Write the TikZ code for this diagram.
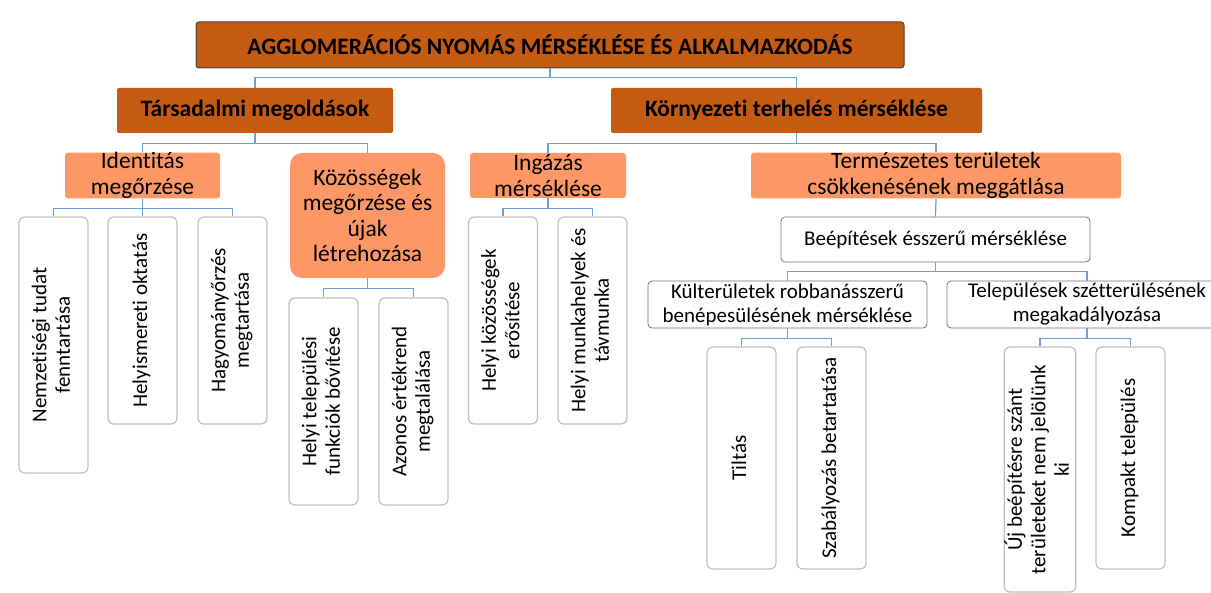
\documentclass[tikz,border=0pt]{standalone}
\usepackage{fontspec}
\setmainfont{Carlito}[Ligatures={NoCommon}]
\usepackage{graphicx}
\usetikzlibrary{positioning}
\definecolor{darkor}{RGB}{197,90,17}
\definecolor{lightor}{RGB}{253,152,102}
\definecolor{bus}{RGB}{110,160,210}
\tikzstyle{ndtop} = [draw=black!75, line width=1pt, fill=darkor, rounded corners=3pt, inner sep=0pt, font=\fontsize{23.5}{26}\selectfont\bfseries]
\tikzstyle{ndmain} = [fill=darkor, rounded corners=2pt, inner sep=0pt, font=\fontsize{23.5}{26}\selectfont\bfseries]
\tikzstyle{ndsub} = [fill=lightor, rounded corners=3pt, inner sep=0pt, align=center, font=\fontsize{23.5}{25.5}\selectfont]
\tikzstyle{ndbox} = [draw=black!55, line width=0.8pt, fill=white, rounded corners=4pt, inner sep=0pt, align=center, font=\fontsize{21}{24}\selectfont]
\tikzstyle{ndleaf} = [draw=black!25, line width=1.2pt, fill=white, rounded corners=6pt, inner sep=0pt, font=\fontsize{21}{23.5}\selectfont]
\tikzstyle{arbus} = [style={draw=bus, line width=1.2pt}]
\newcommand{\vtxt}[1]{\rotatebox{90}{\begin{tabular}{@{}c@{}}#1\end{tabular}}}

\begin{document}
\begin{tikzpicture}[x=1pt, y=-1pt]
	\useasboundingbox (0,0) rectangle (1211,593);
	% top levels
	\node[ndtop, minimum width=708pt, minimum height=46pt] (title) at (550,45) {AGGLOMERÁCIÓS NYOMÁS MÉRSÉKLÉSE ÉS ALKALMAZKODÁS};
	\node[ndmain, minimum width=276pt, minimum height=45pt] (tars) at (255,110.5) {Társadalmi megoldások};
	\node[ndmain, minimum width=371pt, minimum height=45pt] (korny) at (796.5,110.5) {Környezeti terhelés mérséklése};
	% orange subgroups
	\node[ndsub, minimum width=155pt, minimum height=45pt] (ident) at (142.5,175.5) {Identitás\\megőrzése};
	\node[ndsub, minimum width=155pt, minimum height=125pt, rounded corners=12pt] (kozos) at (367.5,215.5) {Közösségek\\megőrzése és\\újak\\létrehozása};
	\node[ndsub, minimum width=156pt, minimum height=45pt] (ingaz) at (548,175.5) {Ingázás\\mérséklése};
	\node[ndsub, minimum width=370pt, minimum height=45pt] (termesz) at (936,175.5) {Természetes területek\\csökkenésének meggátlása};
	% white boxes
	\node[ndbox, minimum width=309pt, minimum height=45pt] (beep) at (935.5,239.5) {Beépítések ésszerű mérséklése};
	\node[ndbox, minimum width=279pt, minimum height=47pt] (kulter) at (787.5,304.5) {Külterületek robbanásszerű\\benépesülésének mérséklése};
	\node[ndbox, minimum width=280pt, minimum height=47pt] (telep) at (1087,304.5) {Települések szétterülésének\\megakadályozása};
	% leaves
	\node[ndleaf, minimum width=69pt, minimum height=256pt] (nemz) at (53.5,345) {\vtxt{Nemzetiségi tudat\\fenntartása}};
	\node[ndleaf, minimum width=69pt, minimum height=207pt] (helyism) at (142.5,320.5) {\vtxt{Helyismereti oktatás}};
	\node[ndleaf, minimum width=69pt, minimum height=207pt] (hagy) at (232.5,320.5) {\vtxt{Hagyományőrzés\\megtartása}};
	\node[ndleaf, minimum width=69pt, minimum height=207pt] (telfunk) at (323.5,401.5) {\vtxt{Helyi települési\\funkciók bővítése}};
	\node[ndleaf, minimum width=69pt, minimum height=207pt] (azonos) at (413.5,401.5) {\vtxt{Azonos értékrend\\megtalálása}};
	\node[ndleaf, minimum width=69pt, minimum height=207pt] (helyikoz) at (503,320.5) {\vtxt{Helyi közösségek\\erősítése}};
	\node[ndleaf, minimum width=69pt, minimum height=207pt] (munkah) at (592.5,320.5) {\vtxt{Helyi munkahelyek és\\távmunka}};
	\node[ndleaf, minimum width=69pt, minimum height=222pt] (tiltas) at (741.5,458) {\vtxt{Tiltás}};
	\node[ndleaf, minimum width=69pt, minimum height=222pt] (szab) at (831.5,458) {\vtxt{Szabályozás betartatása}};
	\node[ndleaf, minimum width=70pt, minimum height=245pt] (uj) at (1040,469.5) {\vtxt{Új beépítésre szánt\\területeket nem jelölünk\\ki}};
	\node[ndleaf, minimum width=69pt, minimum height=222pt] (kompakt) at (1130.5,458) {\vtxt{Kompakt település}};
	% connectors
	\draw[arbus] (title.south) -- ++(0,9) -| (tars.north);
	\draw[arbus] (title.south) -- ++(0,9) -| (korny.north);
	\draw[arbus] (tars.south) -- ++(0,10) -| (ident.north);
	\draw[arbus] (tars.south) -- ++(0,10) -| (kozos.north);
	\draw[arbus] (korny.south) -- ++(0,10) -| (ingaz.north);
	\draw[arbus] (korny.south) -- ++(0,10) -| (termesz.north);
	\draw[arbus] (ident.south) -- ++(0,10) -| (nemz.north);
	\draw[arbus] (ident.south) -- (helyism.north);
	\draw[arbus] (ident.south) -- ++(0,10) -| (hagy.north);
	\draw[arbus] (kozos.south) -- ++(0,10) -| (telfunk.north);
	\draw[arbus] (kozos.south) -- ++(0,10) -| (azonos.north);
	\draw[arbus] (ingaz.south) -- ++(0,10) -| (helyikoz.north);
	\draw[arbus] (ingaz.south) -- ++(0,10) -| (munkah.north);
	\draw[arbus] (termesz.south) -- (beep.north);
	\draw[arbus] (beep.south) -- ++(0,9) -| (kulter.north);
	\draw[arbus] (beep.south) -- ++(0,9) -| (telep.north);
	\draw[arbus] (kulter.south) -- ++(0,10) -| (tiltas.north);
	\draw[arbus] (kulter.south) -- ++(0,10) -| (szab.north);
	\draw[arbus] (telep.south) -- ++(0,10) -| (uj.north);
	\draw[arbus] (telep.south) -- ++(0,10) -| (kompakt.north);
\end{tikzpicture}
\end{document}
